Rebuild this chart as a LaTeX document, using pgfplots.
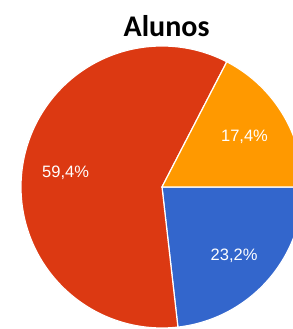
\documentclass[border=0pt]{standalone}
\usepackage{pgfplots}
\pgfplotsset{compat=1.18}
\usepackage{pgfplotstable}
\usepackage{fontspec}
\setmainfont{Carlito}
\newfontfamily\labfont{Liberation Sans}
\definecolor{gblue}{HTML}{3366CC}
\definecolor{gred}{HTML}{DC3912}
\definecolor{gorange}{HTML}{FF9900}

\pgfplotstableread{
label value
Azul 23.2
Vermelho 59.4
Laranja 17.4
}\piedata
\pgfplotstablegetelem{0}{value}\of\piedata \let\va\pgfplotsretval
\pgfplotstablegetelem{1}{value}\of\piedata \let\vb\pgfplotsretval
\pgfplotstablegetelem{2}{value}\of\piedata \let\vc\pgfplotsretval
\pgfmathsetmacro{\aA}{0}
\pgfmathsetmacro{\aB}{\aA-3.6*\va}
\pgfmathsetmacro{\aC}{\aB-3.6*\vb}
\pgfmathsetmacro{\aD}{\aC-3.6*\vc}

\begin{document}%
\begin{tikzpicture}
\begin{axis}[
  scale only axis,
  width=293bp, height=329bp,
  xmin=-1.1489, xmax=0.9291,
  ymin=-1.0071, ymax=1.3262,
  hide axis,
  clip=true,
]
\coordinate (LL) at (rel axis cs:0,0);
\coordinate (UR) at (rel axis cs:1,1);
\addplot[fill=gblue, draw=white, line width=1.2bp, domain=\aA:\aB, samples=90, variable=\t]
  ({cos(\t)},{sin(\t)}) -- (axis cs:0,0) -- cycle;
\addplot[fill=gred, draw=white, line width=1.2bp, domain=\aB:\aC, samples=180, variable=\t]
  ({cos(\t)},{sin(\t)}) -- (axis cs:0,0) -- cycle;
\addplot[fill=gorange, draw=white, line width=1.2bp, domain=\aC:\aD, samples=60, variable=\t]
  ({cos(\t)},{sin(\t)}) -- (axis cs:0,0) -- cycle;
\node[anchor=base, inner sep=0pt] at (axis cs:0.032,1.066)
  {\fontsize{30bp}{36bp}\selectfont\bfseries Alunos};
\node[anchor=base, inner sep=0pt, text=white] at (axis cs:-0.684,0.064)
  {\labfont\fontsize{16.5bp}{20bp}\selectfont 59,4\%};
\node[anchor=base, inner sep=0pt, text=white] at (axis cs:0.585,0.326)
  {\labfont\fontsize{16.5bp}{20bp}\selectfont 17,4\%};
\node[anchor=base, inner sep=0pt, text=white] at (axis cs:0.511,-0.518)
  {\labfont\fontsize{16.5bp}{20bp}\selectfont 23,2\%};
\end{axis}
\pgfresetboundingbox
\path (LL) rectangle (UR);
\end{tikzpicture}%
\end{document}
